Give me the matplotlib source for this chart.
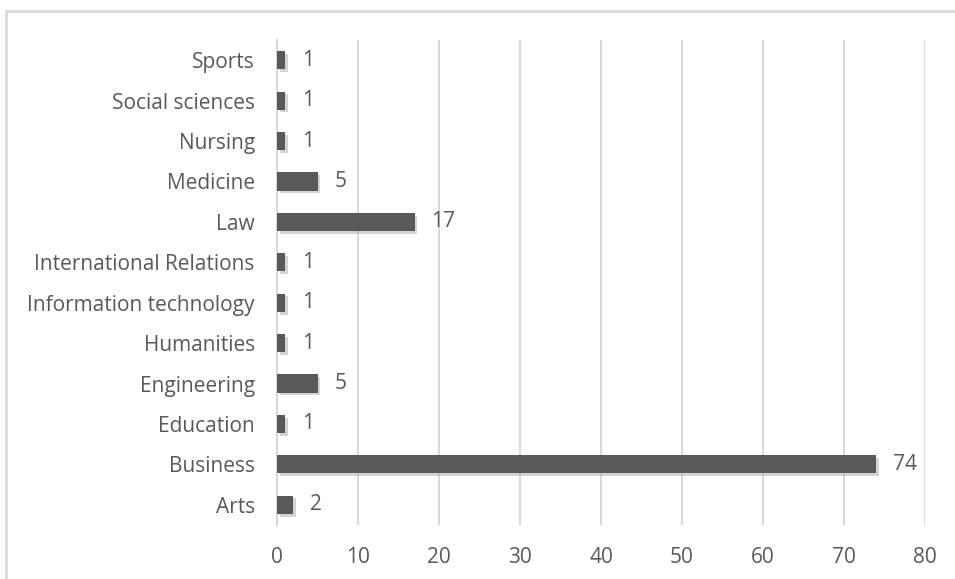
import matplotlib
matplotlib.use("Agg")
import matplotlib.pyplot as plt
import matplotlib.patheffects as pe
from matplotlib.lines import Line2D

categories = ["Arts", "Business", "Education", "Engineering", "Humanities",
              "Information technology", "International Relations", "Law",
              "Medicine", "Nursing", "Social sciences", "Sports"]
values = [2, 74, 1, 5, 1, 1, 1, 17, 5, 1, 1, 1]
xticks = [0, 10, 20, 30, 40, 50, 60, 70, 80]

txt = "#595959"
plt.rcParams['font.family'] = ['Open Sans', 'DejaVu Sans']
fs = 15

fig = plt.figure(figsize=(9.55, 5.79), dpi=100)
ax = fig.add_axes([277/955, 1 - 525/579, (925-277)/955, (525-40)/579])

ypos = list(range(len(categories)))
bars = ax.barh(ypos, values, height=0.45, color="#595959", zorder=3)
for b in bars:
    b.set_path_effects([pe.SimplePatchShadow(offset=(2, -2), shadow_rgbFace="#aaaaaa", alpha=0.5), pe.Normal()])

for y, v in zip(ypos, values):
    ax.annotate(str(v), xy=(v, y), xytext=(12, 0), textcoords="offset points",
                va="center", ha="left", fontsize=fs, color=txt)

ax.set_xlim(0, 80)
ax.set_ylim(-0.5, len(categories) - 0.5)
ax.set_xticks(xticks)
ax.set_yticks(ypos)
ax.set_yticklabels(categories)
ax.tick_params(axis="both", length=0, labelsize=fs, colors=txt)
ax.tick_params(axis="x", pad=16)
ax.tick_params(axis="y", pad=16)
ax.grid(axis="x", color="#d9d9d9", linewidth=1.5, zorder=0)
for s in ["top", "right", "bottom"]:
    ax.spines[s].set_visible(False)
ax.spines["left"].set_color("#d9d9d9")
ax.spines["left"].set_linewidth(1.5)
ax.spines["left"].set_zorder(1)

# outer chart border (top and left visible)
fig.add_artist(Line2D([6/955, 6/955], [0, 1 - 11/579], color="#d9d9d9", linewidth=2))
fig.add_artist(Line2D([6/955, 1], [1 - 11/579, 1 - 11/579], color="#d9d9d9", linewidth=2))

fig.savefig("out.png", dpi=100)
